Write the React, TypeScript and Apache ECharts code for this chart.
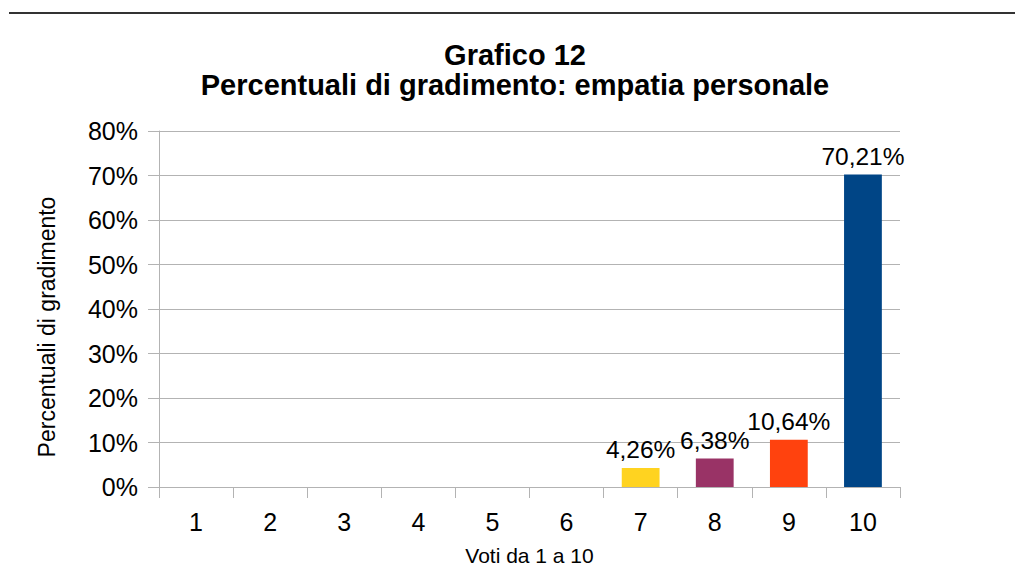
import React, { useEffect, useRef } from "react";
import * as echarts from "echarts";

const categories = ["1", "2", "3", "4", "5", "6", "7", "8", "9", "10"];
const values = [0, 0, 0, 0, 0, 0, 4.26, 6.38, 10.64, 70.21];
const barColors = ["#004586", "#004586", "#004586", "#004586", "#004586", "#004586", "#ffd320", "#993366", "#ff420e", "#004586"];
const titleLines = ["Grafico 12", "Percentuali di gradimento: empatia personale"];
const yName = "Percentuali di gradimento";
const xName = "Voti da 1 a 10";

const FONT = "'Liberation Sans', Arial, sans-serif";

export default function App() {
  const ref = useRef<HTMLDivElement>(null);
  useEffect(() => {
    if (!ref.current) return;
    const chart = echarts.init(ref.current, undefined, { renderer: "svg" });
    chart.setOption({
      animation: false,
      backgroundColor: "#ffffff",
      textStyle: { fontFamily: FONT },
      title: {
        text: titleLines.join("\n"),
        left: 515,
        top: 40,
        padding: 0,
        textAlign: "center",
        textStyle: { fontFamily: FONT, fontSize: 29, fontWeight: "bold", color: "#000", lineHeight: 30 },
      },
      graphic: [
        {
          type: "line",
          shape: { x1: 9, y1: 13, x2: 1015, y2: 13 },
          style: { stroke: "#333", lineWidth: 2 },
        },
        {
          type: "text",
          x: 47,
          y: 327,
          rotation: Math.PI / 2,
          style: {
            text: yName,
            fontFamily: FONT,
            fontSize: 23,
            fill: "#000",
            align: "center",
            verticalAlign: "middle",
          },
        },
      ],
      grid: { left: 159, right: 115, top: 131, bottom: 89, containLabel: false },
      xAxis: {
        type: "category",
        data: categories,
        name: xName,
        nameLocation: "middle",
        nameGap: 58,
        nameTextStyle: { fontFamily: FONT, fontSize: 21, color: "#000" },
        axisLine: { show: true, lineStyle: { color: "#b3b3b3", width: 1 } },
        axisTick: { show: true, length: 11, lineStyle: { color: "#b3b3b3" } },
        axisLabel: { fontFamily: FONT, fontSize: 25, color: "#000", margin: 22 },
      },
      yAxis: {
        type: "value",
        min: 0,
        max: 80,
        interval: 10,
        axisLine: { show: true, lineStyle: { color: "#b3b3b3", width: 1 } },
        axisTick: { show: true, length: 11, lineStyle: { color: "#b3b3b3" } },
        axisLabel: { fontFamily: FONT, fontSize: 25, color: "#000", margin: 21, formatter: (v: number) => v + "%" },
        splitLine: { show: true, lineStyle: { color: "#b3b3b3", width: 1 } },
      },
      series: [
        {
          type: "bar",
          data: values.map((v, i) => ({
            value: v,
            itemStyle: { color: barColors[i] },
            label: { show: v > 0 },
          })),
          barWidth: "51%",
          label: {
            show: true,
            position: "top",
            distance: 6,
            fontFamily: FONT,
            fontSize: 24.5,
            color: "#000",
            formatter: (p: any) => p.value.toFixed(2).replace(".", ",") + "%",
          },
        },
      ],
    });
    return () => chart.dispose();
  }, []);
  return <div ref={ref} style={{ width: 1015, height: 576, position: "absolute", left: 0, top: 0 }} />;
}
